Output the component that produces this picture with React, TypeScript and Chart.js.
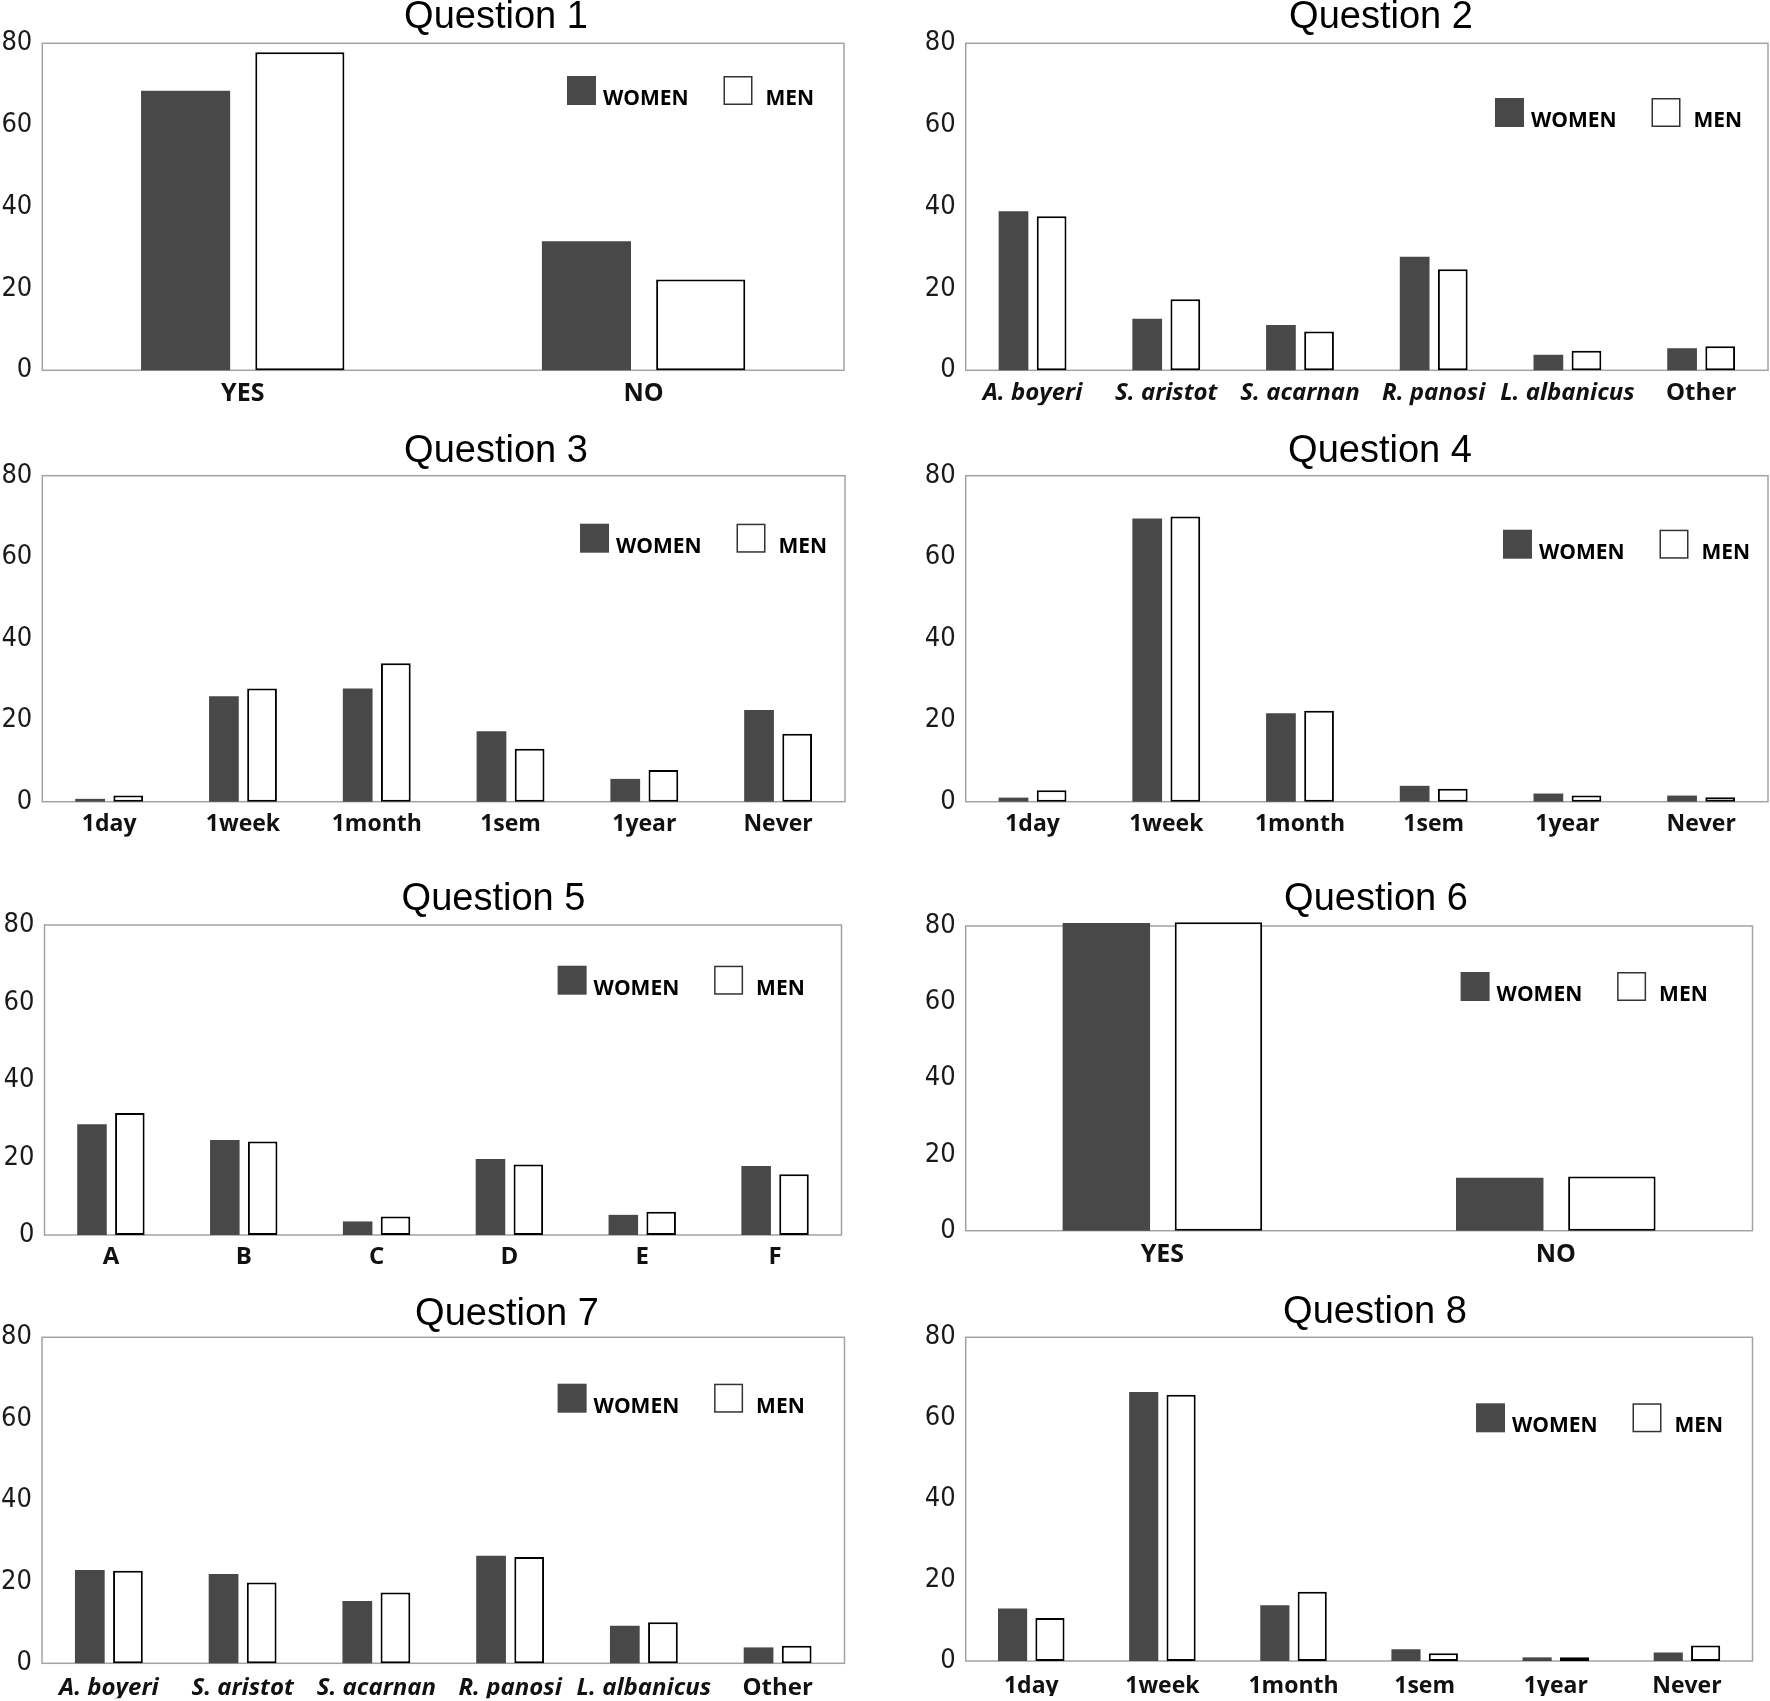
import React, { useEffect, useRef } from 'react';
import { Chart, registerables } from 'chart.js';

Chart.register(...registerables);

// ---------- data ----------
const yesNo = ['YES', 'NO'];
const species = ['A. boyeri', 'S. aristot', 'S. acarnan', 'R. panosi', 'L. albanicus', 'Other'];
const periods = ['1day', '1week', '1month', '1sem', '1year', 'Never'];
const letters = ['A', 'B', 'C', 'D', 'E', 'F'];
const italicLabels = ['A. boyeri', 'S. aristot', 'S. acarnan', 'R. panosi', 'L. albanicus'];

const q1Women = [68.4, 31.6];
const q1Men = [77.8, 22.2];
const q2Women = [38.9, 12.6, 11.1, 27.8, 3.8, 5.4];
const q2Men = [37.7, 17.4, 9.5, 24.7, 4.8, 5.9];
const q3Women = [0.7, 25.9, 27.8, 17.3, 5.6, 22.5];
const q3Men = [1.5, 27.8, 34.0, 13.0, 7.8, 16.7];
const q4Women = [1.0, 69.5, 21.7, 3.9, 2.0, 1.5];
const q4Men = [2.8, 70.0, 22.3, 3.2, 1.5, 1.1];
const q5Women = [28.6, 24.5, 3.5, 19.6, 5.2, 17.8];
const q5Men = [31.5, 24.1, 4.8, 18.2, 6.0, 15.7];
const q6Women = [80.8, 13.9];
const q6Men = [81.0, 14.2];
const q7Women = [22.9, 21.9, 15.3, 26.4, 9.2, 3.9];
const q7Men = [22.7, 19.8, 17.4, 26.1, 10.1, 4.3];
const q8Women = [13.0, 66.5, 13.8, 2.9, 0.9, 2.1];
const q8Men = [10.6, 65.8, 17.1, 1.9, 0.9, 3.8];

const seriesNames = ['WOMEN', 'MEN'];
const yMin = 0;
const yMax = 80;
const yStep = 20;

// ---------- styles ----------
const WOMEN_COLOR = '#484848';
const MEN_FILL = '#ffffff';
const MEN_BORDER = '#000000';
const FRAME_COLOR = '#a3a3a3';
const TICK_FONT = "'Liberation Sans Narrow', 'Arial Narrow', 'DejaVu Sans Condensed', 'Liberation Sans', sans-serif";
const LABEL_FONT = "'Open Sans', 'Liberation Sans', sans-serif";
const TITLE_FONT = "'Liberation Sans', Arial, sans-serif";
const YW = 40;
const XH = 35;
const LEGEND_BOX = 29;
const LEGEND_STEP = 156.5;
const LEGEND_TEXT_GAP = [7, 13];

type Rect = { x: number; y: number; w: number; h: number };
type Plot = { l: number; r: number; t: number; b: number };
type PanelSpec = {
  title: string;
  labels: string[];
  women: number[];
  men: number[];
  canvas: Rect;
  plot: Plot;
  titleX: number;
  titleY: number;
  legendX: number;
  legendY: number;
  xPad: number;
  labelSize: number;
};

const COL_L = { x: 0, w: 885 };
const COL_R = { x: 885, w: 885 };
const ROWS = [
  { y: 0, h: 420 },
  { y: 420, h: 440 },
  { y: 860, h: 420 },
  { y: 1280, h: 421 },
];
const cell = (c: { x: number; w: number }, r: { y: number; h: number }): Rect => ({ x: c.x, y: r.y, w: c.w, h: r.h });

const panels: PanelSpec[] = [
  { title: 'Question 1', labels: yesNo, women: q1Women, men: q1Men, canvas: cell(COL_L, ROWS[0]),
    plot: { l: 42.3, r: 844, t: 43.3, b: 370.3 }, titleX: 496, titleY: 28.3, legendX: 567, legendY: 76, xPad: 9, labelSize: 25 },
  { title: 'Question 2', labels: species, women: q2Women, men: q2Men, canvas: cell(COL_R, ROWS[0]),
    plot: { l: 965.7, r: 1768, t: 43.3, b: 370.3 }, titleX: 1381, titleY: 28, legendX: 1495, legendY: 98, xPad: 8, labelSize: 24 },
  { title: 'Question 3', labels: periods, women: q3Women, men: q3Men, canvas: cell(COL_L, ROWS[1]),
    plot: { l: 42.3, r: 845, t: 475.7, b: 801.7 }, titleX: 496, titleY: 461.7, legendX: 580, legendY: 523.7, xPad: 9, labelSize: 23 },
  { title: 'Question 4', labels: periods, women: q4Women, men: q4Men, canvas: cell(COL_R, ROWS[1]),
    plot: { l: 965.7, r: 1768, t: 475.7, b: 801.7 }, titleX: 1380, titleY: 461.7, legendX: 1503, legendY: 529.7, xPad: 9, labelSize: 23 },
  { title: 'Question 5', labels: letters, women: q5Women, men: q5Men, canvas: cell(COL_L, ROWS[2]),
    plot: { l: 44.5, r: 841.5, t: 925, b: 1235 }, titleX: 493.5, titleY: 910, legendX: 557.6, legendY: 965.7, xPad: 8, labelSize: 24 },
  { title: 'Question 6', labels: yesNo, women: q6Women, men: q6Men, canvas: cell(COL_R, ROWS[2]),
    plot: { l: 965.7, r: 1752.5, t: 926, b: 1230.7 }, titleX: 1376, titleY: 910, legendX: 1460.6, legendY: 972, xPad: 9, labelSize: 25 },
  { title: 'Question 7', labels: species, women: q7Women, men: q7Men, canvas: cell(COL_L, ROWS[3]),
    plot: { l: 42, r: 844.5, t: 1337.3, b: 1663.3 }, titleX: 507, titleY: 1325, legendX: 557.6, legendY: 1383.7, xPad: 10, labelSize: 24 },
  { title: 'Question 8', labels: periods, women: q8Women, men: q8Men, canvas: cell(COL_R, ROWS[3]),
    plot: { l: 965.7, r: 1752.5, t: 1337.3, b: 1661 }, titleX: 1375, titleY: 1323, legendX: 1476, legendY: 1403.3, xPad: 12, labelSize: 23 },
];

// Frame, title and legend drawn with the chart's own canvas
const decorPlugin = {
  id: 'panelDecor',
  beforeDatasetsDraw(chart: any) {
    const { left, top, right, bottom } = chart.chartArea;
    const ctx = chart.ctx;
    ctx.save();
    ctx.strokeStyle = FRAME_COLOR;
    ctx.lineWidth = 1.5;
    ctx.strokeRect(left, top, right - left, bottom - top);
    ctx.restore();
  },
  afterDraw(chart: any, _args: any, opts: any) {
    const ctx = chart.ctx;
    ctx.save();
    // title
    ctx.fillStyle = '#000';
    ctx.font = `38px ${TITLE_FONT}`;
    ctx.textAlign = 'center';
    ctx.textBaseline = 'alphabetic';
    ctx.fillText(opts.title, opts.titleX, opts.titleY);
    // legend
    chart.data.datasets.forEach((ds: any, i: number) => {
      const bx = opts.legendX + i * LEGEND_STEP;
      const by = opts.legendY;
      ctx.fillStyle = ds.backgroundColor;
      ctx.fillRect(bx, by, LEGEND_BOX, LEGEND_BOX);
      if (ds.borderWidth) {
        ctx.strokeStyle = '#333';
        ctx.lineWidth = 1.5;
        ctx.strokeRect(bx + 0.75, by + 0.75, LEGEND_BOX - 1.5, LEGEND_BOX - 1.5);
      }
      ctx.fillStyle = '#000';
      ctx.font = `bold 21px ${LABEL_FONT}`;
      ctx.textAlign = 'left';
      ctx.textBaseline = 'alphabetic';
      ctx.fillText(ds.label, bx + LEGEND_BOX + LEGEND_TEXT_GAP[i], by + LEGEND_BOX);
    });
    ctx.restore();
  },
};

function Panel({ spec }: { spec: PanelSpec }) {
  const ref = useRef<HTMLCanvasElement | null>(null);
  useEffect(() => {
    if (!ref.current) return;
    const c = spec.canvas;
    const p = spec.plot;
    const padding = {
      left: p.l - c.x - YW,
      right: c.x + c.w - p.r,
      top: p.t - c.y,
      bottom: c.y + c.h - p.b - XH,
    };
    const chart = new Chart(ref.current, {
      type: 'bar',
      data: {
        labels: spec.labels,
        datasets: [
          {
            label: seriesNames[0],
            data: spec.women,
            backgroundColor: WOMEN_COLOR,
            borderWidth: 0,
            categoryPercentage: 0.57,
            barPercentage: 0.78,
            clip: false,
          } as any,
          {
            label: seriesNames[1],
            data: spec.men,
            backgroundColor: MEN_FILL,
            borderColor: MEN_BORDER,
            borderWidth: 2,
            borderSkipped: false,
            categoryPercentage: 0.57,
            barPercentage: 0.78,
            clip: false,
          } as any,
        ],
      },
      options: {
        responsive: false,
        maintainAspectRatio: false,
        animation: false,
        devicePixelRatio: 1,
        layout: { padding },
        plugins: {
          legend: { display: false },
          title: { display: false },
          tooltip: { enabled: false },
          panelDecor: {
            title: spec.title,
            titleX: spec.titleX - c.x,
            titleY: spec.titleY - c.y,
            legendX: spec.legendX - c.x,
            legendY: spec.legendY - c.y,
          },
        } as any,
        scales: {
          x: {
            grid: { display: false, drawTicks: false },
            border: { display: false },
            ticks: {
              autoSkip: false,
              maxRotation: 0,
              minRotation: 0,
              padding: spec.xPad,
              color: '#111',
              font: (ctx: any) => ({
                family: LABEL_FONT,
                size: spec.labelSize,
                weight: 'bold',
                style: italicLabels.includes(spec.labels[ctx.index]) ? 'italic' : 'normal',
              }),
            },
            afterFit: (s: any) => {
              s.height = XH;
            },
          },
          y: {
            min: yMin,
            max: yMax,
            grid: { display: false, drawTicks: false },
            border: { display: false },
            ticks: {
              stepSize: yStep,
              padding: 10,
              color: '#1a1a1a',
              font: { family: TICK_FONT, size: 27 },
            },
            afterFit: (s: any) => {
              s.width = YW;
            },
          },
        },
      },
      plugins: [decorPlugin],
    });
    return () => chart.destroy();
  }, [spec]);
  const c = spec.canvas;
  return (
    <canvas
      ref={ref}
      width={c.w}
      height={c.h}
      style={{ position: 'absolute', left: c.x, top: c.y, width: c.w, height: c.h, display: 'block' }}
    />
  );
}

export default function App() {
  return (
    <div style={{ position: 'absolute', left: 0, top: 0, width: 1770, height: 1701, background: '#fff', overflow: 'hidden' }}>
      {panels.map((p) => (
        <Panel key={p.title} spec={p} />
      ))}
    </div>
  );
}
